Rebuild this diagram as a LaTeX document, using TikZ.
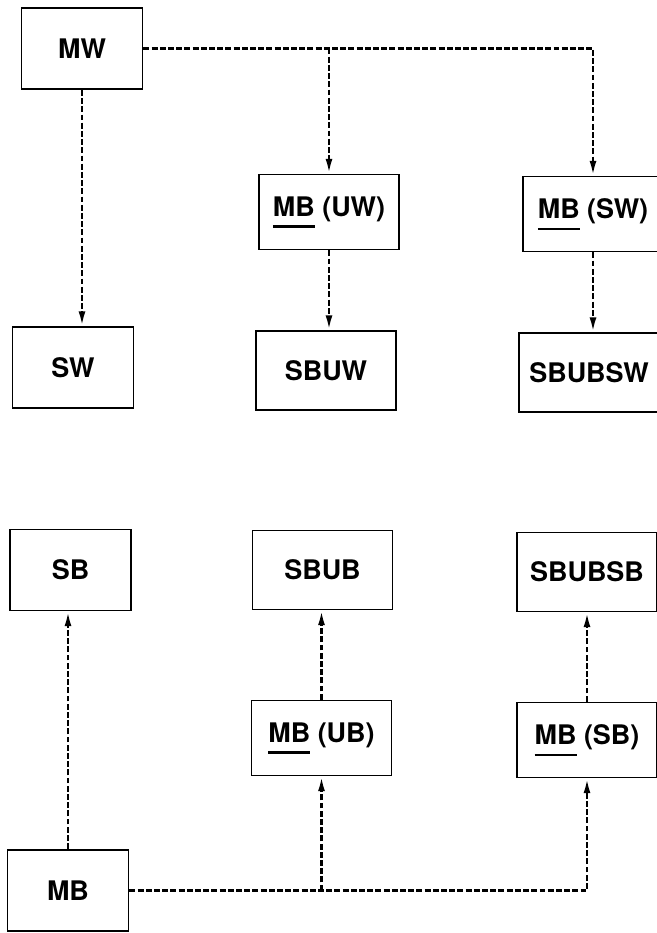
\documentclass[tikz,border=0pt]{standalone}
\usepackage{fontspec}
\setmainfont{TeX Gyre Heros}
\usetikzlibrary{positioning}
\usetikzlibrary{calc}
\usetikzlibrary{arrows.meta}
\newcommand{\lowul}[1]{\vtop{\hbox{#1}\kern 0.35em\hrule height 0.08em}}

\begin{document}
\begin{tikzpicture}[
        x=0.03cm, y=-0.03cm,
        box/.style={draw=black, line width=1.6pt, fill=white,
                    minimum width=3.63cm, minimum height=2.43cm,
                    align=center, font=\fontsize{23}{26}\selectfont\bfseries},
        widebox/.style={box, minimum width=4.2cm, minimum height=2.37cm},
        mbbox/.style={box, minimum width=4.2cm, minimum height=2.25cm},
        link/.style={-{Latex[length=4.4mm,width=2.1mm]}, line width=2pt,
                     dash pattern=on 5pt off 2pt}
    ]
        \useasboundingbox (0,0) rectangle (657,933);

        % white side
        \node[box] (mw) at (82,48.5) {MW};
        \node[box] (sw) at (73,367.5) {SW};
        \node[mbbox] (mbuw) at (329,212) {\lowul{MB} (UW)};
        \node[widebox] (sbuw) at (326,370.5) {SBUW};
        \node[mbbox] (mbsw) at (593,214) {\lowul{MB} (SW)};
        \node[widebox] (sbubsw) at (589,372.5) {SBUBSW};

        % black side
        \node[box] (sb) at (70.5,570) {SB};
        \node[box] (mb) at (68,890.5) {MB};
        \node[widebox] (sbub) at (322.5,570) {SBUB};
        \node[mbbox] (mbub) at (321.5,738) {\lowul{MB} (UB)};
        \node[widebox] (sbubsb) at (587,572) {SBUBSB};
        \node[mbbox] (mbsb) at (587,740) {\lowul{MB} (SB)};

        \draw[link] (mw.east) -| (mbsw.north);
        \draw[link] (mw.east -| mbuw.north) -- (mbuw.north);
        \draw[link] (mw.south) -- (mw.south |- sw.north);
        \draw[link] (mbuw.south) -- (mbuw.south |- sbuw.north);
        \draw[link] (mbsw.south) -- (mbsw.south |- sbubsw.north);

        \draw[link] (mb.north) -- (mb.north |- sb.south);
        \draw[link] (mb.east) -| (mbsb.south);
        \draw[link] (mb.east -| mbub.south) -- (mbub.south);
        \draw[link] (mbub.north) -- (mbub.north |- sbub.south);
        \draw[link] (mbsb.north) -- (sbubsb.south);
    \end{tikzpicture}
\end{document}
